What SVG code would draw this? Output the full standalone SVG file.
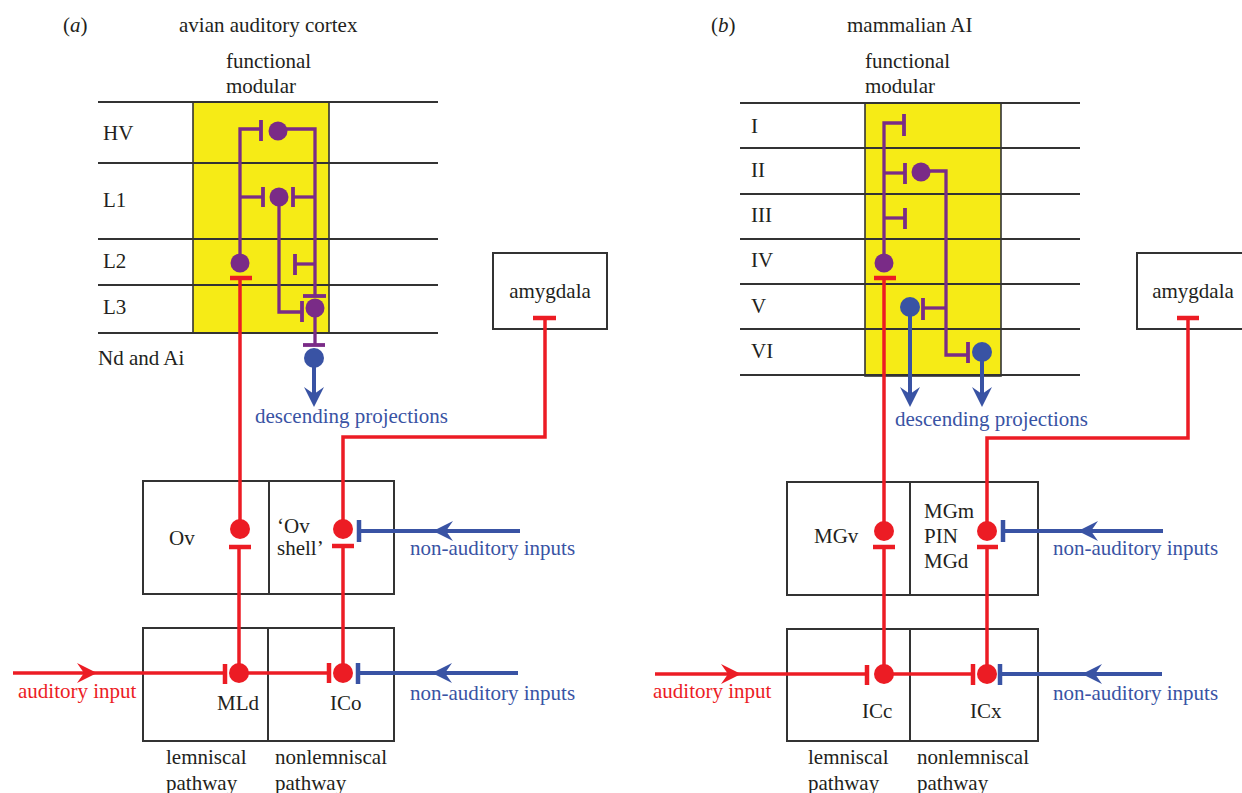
<svg xmlns="http://www.w3.org/2000/svg" width="1242" height="793" viewBox="0 0 1242 793">
<style>
text{font-family:"Liberation Serif","Times New Roman",serif;font-size:21px;fill:#231f20}
.bl{fill:#3953a4}
.rd{fill:#ec1c24}
.layer{stroke:#333;stroke-width:2;fill:none}
.box{stroke:#333;stroke-width:2;fill:#fff}
.yel{fill:#f6eb16;stroke:#333;stroke-width:1.6}
.p{stroke:#7a2b87;stroke-width:3.3;fill:none}
.pb{stroke:#7a2b87;stroke-width:3.8;fill:none}
.r{stroke:#ec1c24;stroke-width:3.5;fill:none}
.rb{stroke:#ec1c24;stroke-width:4.5;fill:none}
.b{stroke:#3953a4;stroke-width:4;fill:none}
.bb{stroke:#3953a4;stroke-width:4.5;fill:none}
.pc{fill:#7a2b87}
.rc{fill:#ec1c24}
.bc{fill:#3953a4}
</style>
<defs>
<path id="ah" d="M0,0 L-20,-10 L-13,0 L-20,10 Z"/>
</defs>

<!-- Panel a -->
<g id="a-titles">
<text x="63" y="32">(<tspan font-style="italic">a</tspan>)</text>
<text x="179" y="32">avian auditory cortex</text>
<text x="226" y="68">functional</text>
<text x="226" y="93">modular</text>
</g>
<g id="a-cortex">
<rect class="yel" x="193" y="102" width="136" height="231"/>
<path class="layer" d="M98 102H438M98 163H438M98 239H438M98 285H438M98 333H438"/>
<text x="103" y="140">HV</text>
<text x="103" y="207">L1</text>
<text x="103" y="268">L2</text>
<text x="103" y="314">L3</text>
<text x="98" y="365">Nd and Ai</text>
</g>
<g id="a-amygdala">
<rect class="box" x="493" y="253" width="114" height="76"/>
<text x="550" y="298" text-anchor="middle">amygdala</text>
</g>
<g id="a-thalamus">
<rect class="box" x="143" y="481" width="251" height="113"/>
<line class="layer" x1="269" y1="481" x2="269" y2="594"/>
<text x="169" y="545">Ov</text>
<text x="277" y="533">‘Ov</text>
<text x="277" y="555">shell’</text>
</g>
<g id="a-midbrain">
<rect class="box" x="143" y="628" width="251" height="113"/>
<line class="layer" x1="268" y1="628" x2="268" y2="741"/>
<text x="217" y="710">MLd</text>
<text x="330" y="710">ICo</text>
</g>
<g id="a-labels">
<text class="bl" x="255" y="423">descending projections</text>
<text class="bl" x="410" y="555">non-auditory inputs</text>
<text class="bl" x="410" y="700">non-auditory inputs</text>
<text class="rd" x="18" y="698">auditory input</text>
<text x="166" y="764">lemniscal</text>
<text x="166" y="790">pathway</text>
<text x="275" y="764">nonlemniscal</text>
<text x="275" y="790">pathway</text>
</g>

<g id="a-connectors">
<path class="p" d="M261 129H240V263"/>
<path class="pb" d="M261 120V141"/>
<path class="p" d="M278 129H315V296"/>
<path class="pb" d="M303 296H326"/>
<path class="p" d="M240 197H263"/>
<path class="pb" d="M263 187V207"/>
<path class="pb" d="M293 187V207"/>
<path class="p" d="M293 197H315"/>
<path class="p" d="M279 197V312H302"/>
<path class="pb" d="M302 301V322"/>
<path class="pb" d="M295 254V275"/>
<path class="p" d="M295 264H315"/>
<path class="p" d="M315 308V345"/>
<path class="pb" d="M303 345H325"/>
<circle class="pc" cx="278" cy="131" r="9.5"/>
<circle class="pc" cx="279" cy="197" r="9.5"/>
<circle class="pc" cx="240" cy="263" r="9.5"/>
<circle class="pc" cx="315" cy="308" r="9.5"/>
<circle class="bc" cx="314" cy="358" r="10"/>
<path class="b" d="M314 358V398"/>
<use href="#ah" class="bc" transform="translate(314 407) rotate(90)"/>
<path class="rb" d="M230 278H252"/>
<path class="r" d="M240 278V529"/>
<circle class="rc" cx="240" cy="529" r="10"/>
<path class="rb" d="M229 547H251"/>
<path class="r" d="M239 547V673"/>
<path class="r" d="M343 529V437H545V318"/>
<path class="rb" d="M533 318H556"/>
<circle class="rc" cx="343" cy="529" r="10"/>
<path class="rb" d="M332 546H354"/>
<path class="r" d="M343 546V673"/>
<path class="r" d="M13 673H225"/>
<use href="#ah" class="rc" transform="translate(97 673)"/>
<path class="rb" d="M225 664V684"/>
<circle class="rc" cx="239" cy="673" r="10"/>
<path class="r" d="M239 673H329"/>
<path class="rb" d="M329 663V683"/>
<circle class="rc" cx="343" cy="673" r="10"/>
<path class="bb" d="M359 520V542"/>
<path class="b" d="M359 531H520"/>
<use href="#ah" class="bc" transform="translate(433 531) rotate(180)"/>
<path class="bb" d="M358 663V684"/>
<path class="b" d="M358 673H518"/>
<use href="#ah" class="bc" transform="translate(432 673) rotate(180)"/>
</g>

<!-- Panel b -->
<g id="b-titles">
<text x="711" y="32">(<tspan font-style="italic">b</tspan>)</text>
<text x="847" y="32">mammalian AI</text>
<text x="865" y="68">functional</text>
<text x="865" y="93">modular</text>
</g>
<g id="b-cortex">
<rect class="yel" x="865" y="103" width="136" height="273"/>
<path class="layer" d="M740 103H1080M740 148H1080M740 194H1080M740 239H1080M740 284H1080M740 329H1080M740 375H1080"/>
<text x="751" y="133">I</text>
<text x="751" y="177">II</text>
<text x="751" y="222">III</text>
<text x="751" y="267">IV</text>
<text x="751" y="313">V</text>
<text x="751" y="358">VI</text>
</g>
<g id="b-amygdala">
<rect class="box" x="1137" y="253" width="115" height="76"/>
<text x="1193" y="298" text-anchor="middle">amygdala</text>
</g>
<g id="b-thalamus">
<rect class="box" x="787" y="482" width="251" height="113"/>
<line class="layer" x1="910" y1="482" x2="910" y2="595"/>
<text x="814" y="543">MGv</text>
<text x="924" y="518">MGm</text>
<text x="924" y="543">PIN</text>
<text x="924" y="568">MGd</text>
</g>
<g id="b-midbrain">
<rect class="box" x="787" y="629" width="251" height="112"/>
<line class="layer" x1="910" y1="629" x2="910" y2="741"/>
<text x="862" y="718">ICc</text>
<text x="970" y="718">ICx</text>
</g>
<g id="b-labels">
<text class="bl" x="895" y="426">descending projections</text>
<text class="bl" x="1053" y="555">non-auditory inputs</text>
<text class="bl" x="1053" y="700">non-auditory inputs</text>
<text class="rd" x="653" y="698">auditory input</text>
<text x="808" y="764">lemniscal</text>
<text x="808" y="790">pathway</text>
<text x="917" y="764">nonlemniscal</text>
<text x="917" y="790">pathway</text>
</g>

<g id="b-connectors">
<path class="p" d="M904 123H884V263"/>
<path class="pb" d="M904 114V136"/>
<path class="p" d="M884 173H905"/>
<path class="pb" d="M905 163V184"/>
<path class="p" d="M921 171H946V355H968"/>
<path class="pb" d="M968 342V363"/>
<path class="p" d="M884 218H905"/>
<path class="pb" d="M905 208V229"/>
<path class="p" d="M946 308H923"/>
<path class="pb" d="M923 298V320"/>
<circle class="pc" cx="921" cy="172" r="9.5"/>
<circle class="pc" cx="884" cy="263" r="9.5"/>
<circle class="bc" cx="910" cy="307" r="10"/>
<circle class="bc" cx="982" cy="352" r="10"/>
<path class="b" d="M910 307V398"/>
<path class="b" d="M982 352V398"/>
<use href="#ah" class="bc" transform="translate(910 407) rotate(90)"/>
<use href="#ah" class="bc" transform="translate(982 407) rotate(90)"/>
<path class="rb" d="M874 278H896"/>
<path class="r" d="M884 278V531"/>
<circle class="rc" cx="884" cy="531" r="10"/>
<path class="rb" d="M873 547H895"/>
<path class="r" d="M884 547V674"/>
<path class="r" d="M987 531V438H1188V318"/>
<path class="rb" d="M1177 318H1199"/>
<circle class="rc" cx="987" cy="531" r="10"/>
<path class="rb" d="M977 547H998"/>
<path class="r" d="M987 547V674"/>
<path class="r" d="M655 674H867"/>
<use href="#ah" class="rc" transform="translate(741 674)"/>
<path class="rb" d="M867 665V685"/>
<circle class="rc" cx="884" cy="674" r="10"/>
<path class="r" d="M884 674H973"/>
<path class="rb" d="M973 664V685"/>
<circle class="rc" cx="987" cy="674" r="10"/>
<path class="bb" d="M1003 520V542"/>
<path class="b" d="M1003 531H1163"/>
<use href="#ah" class="bc" transform="translate(1078 531) rotate(180)"/>
<path class="bb" d="M1000 664V685"/>
<path class="b" d="M1000 674H1162"/>
<use href="#ah" class="bc" transform="translate(1082 674) rotate(180)"/>
</g>
</svg>
